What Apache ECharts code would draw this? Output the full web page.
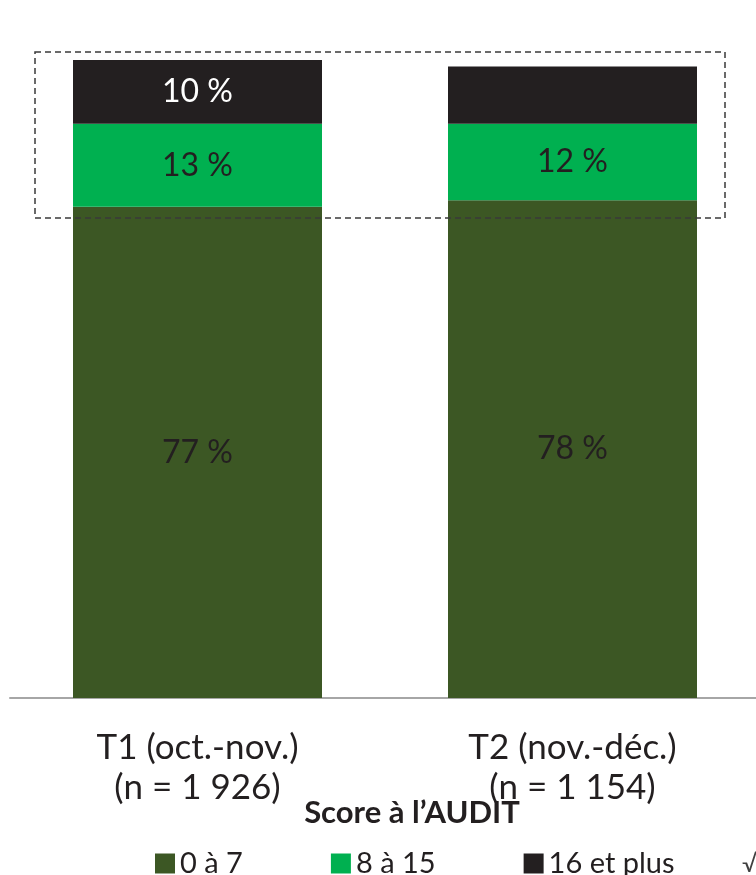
<!DOCTYPE html>
<html lang="fr">
<head>
    <meta charset="UTF-8">
    <script src="https://cdn.jsdelivr.net/npm/echarts@6/dist/echarts.min.js"></script>
    <title>Score à l'AUDIT</title>
    <style>
        html, body { margin: 0; padding: 0; background: #fff; }
    </style>
</head>
<body>
<div id="main" style="width: 756px;height:875px;"></div>
<script type="text/javascript">
    // données
    var categories = ['T1 (oct.-nov.)\n(n = 1 926)', 'T2 (nov.-déc.)\n(n = 1 154)'];
    var score_0_7 = [77, 78];
    var score_8_15 = [13, 12];
    var score_16_plus = [10, 9];
    var showTopLabel = [true, false];

    var fontFam = 'Lato, "Noto Sans", sans-serif';

    var myChart = echarts.init(document.getElementById('main'));

    var option = {
        animation: false,
        textStyle: { fontFamily: fontFam },
        title: {
            text: 'Score à l\u2019AUDIT',
            left: 407,
            textAlign: 'center',
            top: 792,
            textStyle: { fontSize: 31, fontWeight: 'bold', color: '#231f20', fontFamily: fontFam }
        },
        legend: {
            left: 150,
            top: 844,
            itemWidth: 20,
            itemHeight: 20,
            itemGap: 88,
            icon: 'rect',
            textStyle: { fontSize: 29, color: '#231f20', fontFamily: fontFam },
            data: ['0 à 7', '8 à 15', '16 et plus']
        },
        grid: {
            left: 10,
            width: 750,
            top: 60,
            bottom: 177,
            outerBoundsMode: 'none'
        },
        xAxis: {
            type: 'category',
            data: categories,
            axisLine: { lineStyle: { color: '#a6a6a6', width: 2 } },
            axisTick: { show: false },
            axisLabel: {
                margin: 30,
                fontSize: 35,
                lineHeight: 40,
                color: '#231f20',
                fontFamily: fontFam
            }
        },
        yAxis: {
            type: 'value',
            min: 0,
            max: 100,
            show: false
        },
        series: [
            {
                name: '0 à 7',
                type: 'bar',
                stack: 'total',
                barWidth: '66.4%',
                itemStyle: { color: '#3c5724' },
                label: {
                    show: true, position: 'inside', formatter: '{c} %',
                    fontSize: 32, color: '#231f20', fontFamily: fontFam
                },
                data: score_0_7
            },
            {
                name: '8 à 15',
                type: 'bar',
                stack: 'total',
                itemStyle: { color: '#00b050' },
                label: {
                    show: true, position: 'inside', formatter: '{c} %',
                    fontSize: 32, color: '#231f20', fontFamily: fontFam
                },
                data: score_8_15
            },
            {
                name: '16 et plus',
                type: 'bar',
                stack: 'total',
                itemStyle: { color: '#231f20' },
                label: {
                    show: true, position: 'inside',
                    formatter: function (p) { return showTopLabel[p.dataIndex] ? p.value + ' %' : ''; },
                    fontSize: 32, color: '#ffffff', fontFamily: fontFam
                },
                data: score_16_plus
            }
        ],
        graphic: [
            {
                type: 'rect',
                shape: { x: 35, y: 52, width: 690, height: 166 },
                style: { fill: 'none', stroke: '#3a3a3a', lineWidth: 1.5, lineDash: [6, 4] },
                z: 10
            },
            {
                type: 'text',
                left: 742,
                top: 852,
                style: { text: '\u221a', fontSize: 24, fill: '#404040', fontFamily: fontFam }
            }
        ]
    };
    myChart.setOption(option);
</script>
</body>
</html>
